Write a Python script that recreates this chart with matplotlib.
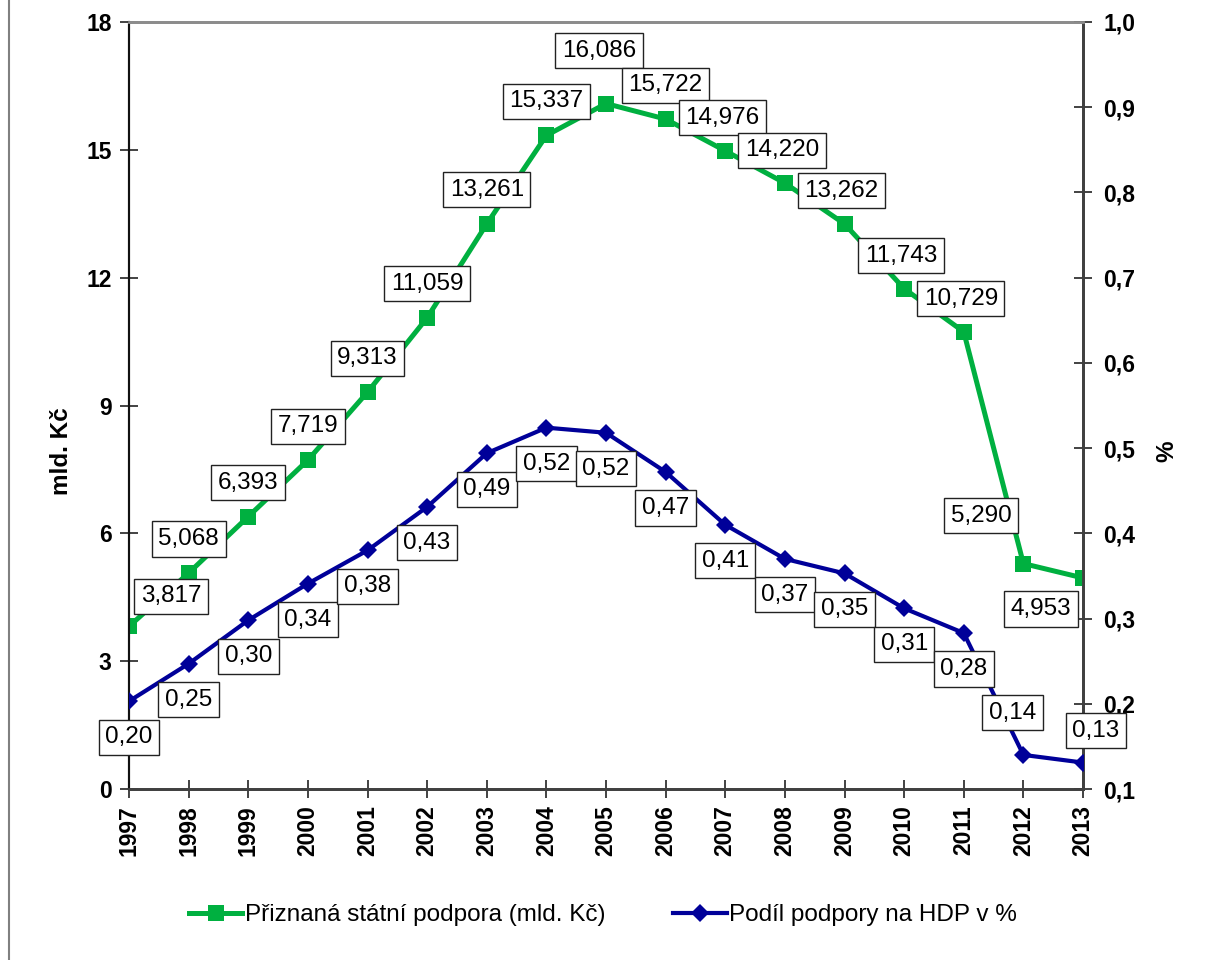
import matplotlib
matplotlib.use("Agg")
import matplotlib.pyplot as plt
from matplotlib.lines import Line2D

plt.rcParams["font.family"] = ["Liberation Sans", "DejaVu Sans"]

# Data
years = [1997, 1998, 1999, 2000, 2001, 2002, 2003, 2004, 2005,
         2006, 2007, 2008, 2009, 2010, 2011, 2012, 2013]
support_bn = [3.817, 5.068, 6.393, 7.719, 9.313, 11.059, 13.261, 15.337, 16.086,
              15.722, 14.976, 14.220, 13.262, 11.743, 10.729, 5.290, 4.953]
share_gdp = [0.203, 0.247, 0.298, 0.341, 0.380, 0.431, 0.494, 0.524, 0.518,
             0.472, 0.410, 0.370, 0.353, 0.312, 0.283, 0.140, 0.131]
left_ticks = [0, 3, 6, 9, 12, 15, 18]
right_ticks = [0.1, 0.2, 0.3, 0.4, 0.5, 0.6, 0.7, 0.8, 0.9, 1.0]
series_names = ["Přiznaná státní podpora (mld. Kč)", "Podíl podpory na HDP v %"]

# Label placement (offset in pixels from the marker)
green_offsets = [(42, 30)] + [(0, 34)] * 7 + [(-7, 53)] + [(0, 34)] + [(-3, 33)] * 5 + [(-42, 48), (-42, -31)]
blue_offsets = [(0, -36)] * 15 + [(-11, 42), (13, 32)]

GREEN = "#00b040"
BLUE = "#000099"

W, H = 1205, 960
fig = plt.figure(figsize=(W / 100, H / 100), dpi=100)
ax = fig.add_axes([129 / W, 1 - 789 / H, 954 / W, 767 / H])
ax2 = ax.twinx()

l1, = ax.plot(years, support_bn, color=GREEN, lw=3.6, marker="s", ms=12,
              markeredgewidth=0, zorder=3, label=series_names[0])
l2, = ax2.plot(years, share_gdp, color=BLUE, lw=3.0, marker="D", ms=9,
               markeredgewidth=0, zorder=3, label=series_names[1])

ax.set_xlim(1997, 2013)
ax.set_ylim(0, 18)
ax2.set_ylim(0.1, 1.0)
ax.set_xticks(years)
ax.set_xticklabels([str(y) for y in years], rotation=90, fontsize=16.5, fontweight="bold")
ax.set_yticks(left_ticks)
ax.set_yticklabels([str(t) for t in left_ticks], fontsize=16.5, fontweight="bold")
ax2.set_yticks(right_ticks)
ax2.set_yticklabels([f"{t:.1f}".replace(".", ",") for t in right_ticks],
                    fontsize=16.5, fontweight="bold")

ax.tick_params(axis="both", direction="inout", length=13, width=1.2, color="#222222")
ax.tick_params(axis="y", pad=6)
ax.tick_params(axis="x", pad=5)
ax2.tick_params(axis="y", direction="inout", length=13, width=1.2, color="#222222", pad=8)

for a in (ax, ax2):
    a.spines["left"].set_color("#111111")
    a.spines["left"].set_linewidth(1.5)
    a.spines["right"].set_color("#404040")
    a.spines["right"].set_linewidth(2)
    a.spines["bottom"].set_color("#404040")
    a.spines["bottom"].set_linewidth(2)
    a.spines["top"].set_color("#8c8c8c")
    a.spines["top"].set_linewidth(2)

ax.set_ylabel("mld. Kč", fontsize=17.5, fontweight="bold")
ax2.set_ylabel("%", fontsize=17.5, fontweight="bold")
ax.yaxis.set_label_coords(-56 / 954, 0.44)
ax2.yaxis.set_label_coords(1 + 72 / 954, 0.44)

box = dict(boxstyle="square,pad=0.27", fc="white", ec="#222222", lw=1)
for x, v, off in zip(years, support_bn, green_offsets):
    ax2.annotate(f"{v:.3f}".replace(".", ","), xy=(x, 0.1 + v / 18 * 0.9),
                 xytext=off, textcoords="offset pixels", ha="center", va="center",
                 fontsize=17.5, bbox=box, zorder=5, annotation_clip=False)
for x, v, off in zip(years, share_gdp, blue_offsets):
    ax2.annotate(f"{v:.2f}".replace(".", ","), xy=(x, v),
                 xytext=off, textcoords="offset pixels", ha="center", va="center",
                 fontsize=17.5, bbox=box, zorder=5, annotation_clip=False)

fig.legend(handles=[l1, l2], loc="center", bbox_to_anchor=(603 / W, 1 - 915 / H),
           ncol=2, frameon=False, fontsize=17.5, handlelength=2.2,
           handletextpad=0.1, columnspacing=2.8)

fig.add_artist(Line2D([9 / W, 9 / W], [0, 1], color="#808080", lw=1.5,
                      transform=fig.transFigure))

fig.savefig("out.png", dpi=100)
